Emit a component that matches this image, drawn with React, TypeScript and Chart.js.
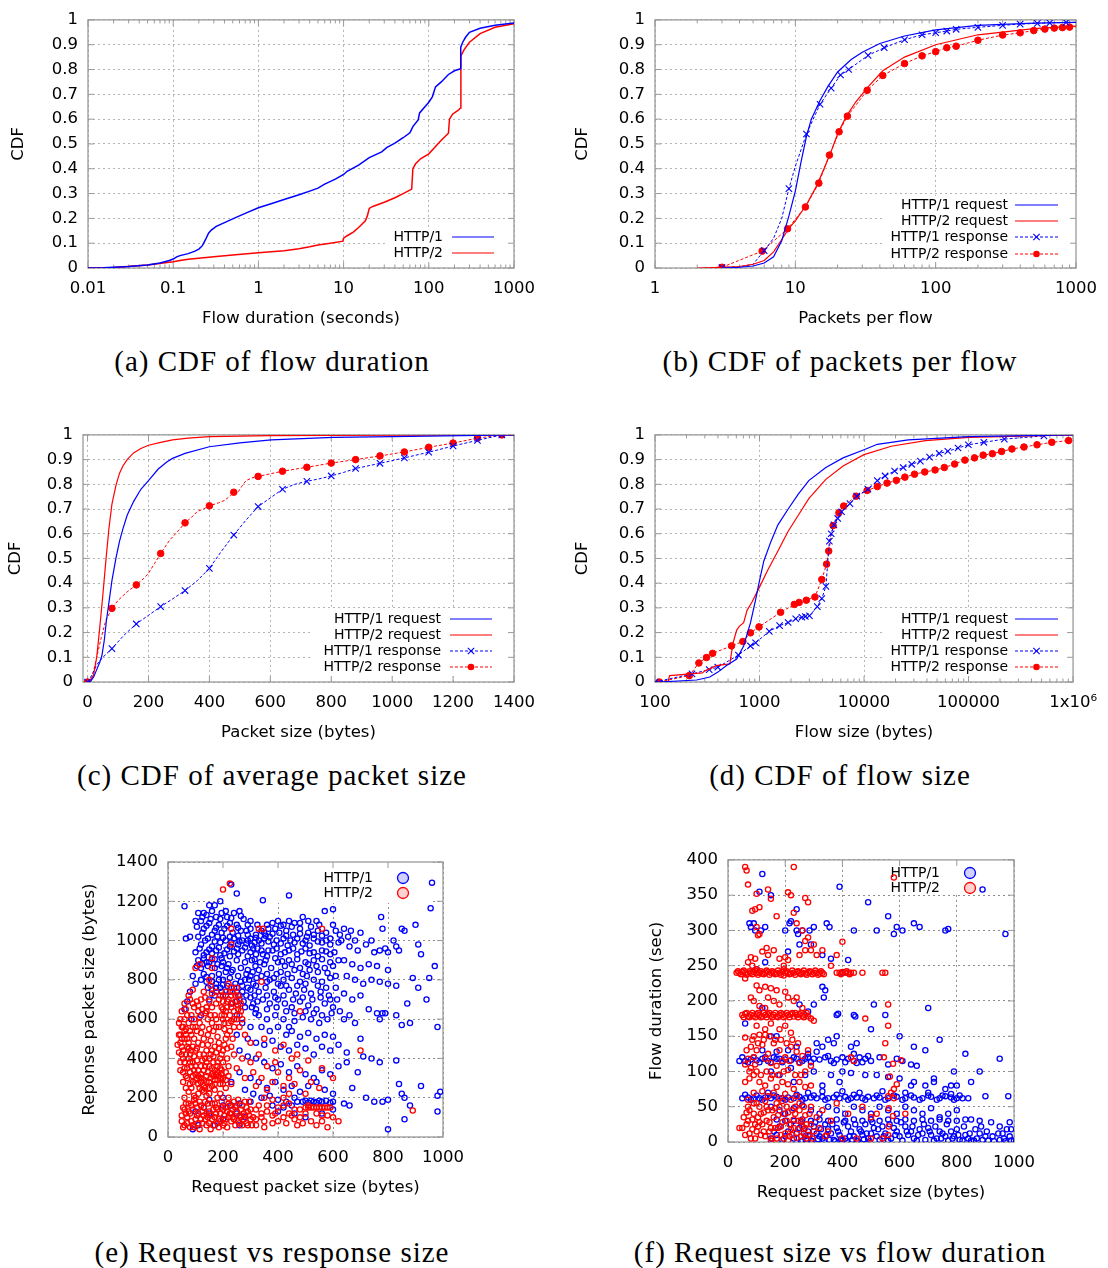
import React, { useEffect, useRef } from 'react';
import { Chart, registerables } from 'chart.js';
Chart.register(...registerables);

type P = [number, number];

const BLUE = 'rgb(0,0,255)';
const RED = 'rgb(255,0,0)';
const FONT = '"DejaVu Sans", Verdana, sans-serif';
const AXF = 16.5;

// ---------- (a) CDF of flow duration ----------
const aXTicks = [0.01, 0.1, 1, 10, 100, 1000];
const aXLabels = ['0.01', '0.1', '1', '10', '100', '1000'];
const cdfYTicks = [0, 0.1, 0.2, 0.3, 0.4, 0.5, 0.6, 0.7, 0.8, 0.9, 1];
const cdfYLabels = ['0', '0.1', '0.2', '0.3', '0.4', '0.5', '0.6', '0.7', '0.8', '0.9', '1'];
const aHttp1: P[] = [[0.01,0],[0.015,0.001],[0.02,0.003],[0.03,0.006],[0.05,0.012],[0.07,0.02],[0.09,0.03],[0.1,0.036],[0.11,0.045],[0.12,0.05],[0.15,0.058],[0.18,0.068],[0.2,0.076],[0.22,0.09],[0.24,0.115],[0.26,0.14],[0.28,0.153],[0.32,0.168],[0.4,0.183],[0.5,0.198],[0.7,0.22],[1,0.243],[1.5,0.262],[2,0.276],[3,0.295],[4,0.31],[5,0.322],[6,0.338],[8,0.358],[10,0.377],[11,0.39],[15,0.415],[20,0.445],[28,0.468],[32,0.485],[40,0.503],[50,0.525],[60,0.545],[65,0.57],[75,0.597],[78,0.625],[90,0.65],[100,0.668],[110,0.69],[120,0.73],[140,0.75],[170,0.78],[200,0.795],[235,0.803],[237,0.89],[250,0.91],[270,0.93],[300,0.95],[400,0.966],[600,0.978],[1000,0.988]];
const aHttp2: P[] = [[0.01,0],[0.02,0.002],[0.05,0.012],[0.1,0.025],[0.12,0.03],[0.15,0.035],[0.3,0.045],[0.5,0.052],[1,0.061],[2,0.07],[3,0.078],[4,0.086],[5,0.093],[7,0.1],[9.8,0.108],[10,0.12],[11,0.13],[13,0.145],[15,0.163],[18,0.19],[19,0.21],[20,0.24],[22,0.248],[30,0.265],[40,0.283],[50,0.3],[63,0.318],[65,0.4],[70,0.42],[80,0.44],[100,0.46],[120,0.49],[140,0.515],[170,0.543],[175,0.6],[190,0.62],[220,0.635],[236,0.645],[238,0.855],[260,0.88],[300,0.91],[400,0.945],[600,0.97],[1000,0.985]];

// ---------- (b) CDF of packets per flow ----------
const bXTicks = [1, 10, 100, 1000];
const bXLabels = ['1', '10', '100', '1000'];
const bReq1: P[] = [[3,0],[4,0.003],[5,0.008],[6,0.02],[7,0.045],[8,0.11],[9,0.21],[10,0.31],[11,0.43],[12,0.53],[13,0.6],[15,0.675],[17,0.73],[20,0.79],[25,0.84],[30,0.87],[40,0.905],[60,0.935],[100,0.96],[200,0.978],[500,0.987],[1000,0.99]];
const bReq2: P[] = [[2,0],[3,0.003],[4,0.006],[5,0.015],[6,0.03],[7,0.065],[8,0.115],[9,0.16],[10,0.19],[12,0.255],[14,0.325],[16,0.4],[18,0.47],[20,0.54],[23,0.61],[27,0.67],[33,0.73],[42,0.795],[60,0.85],[100,0.9],[200,0.94],[500,0.965],[1000,0.975]];
const bResp1: P[] = [[3,0.002],[4,0.005],[5,0.015],[6,0.07],[7,0.12],[8,0.2],[9,0.32],[10,0.41],[12,0.54],[15,0.66],[18,0.725],[21,0.778],[24,0.8],[33,0.857],[43,0.888],[60,0.92],[80,0.94],[100,0.948],[120,0.955],[140,0.962],[200,0.97],[300,0.978],[400,0.983],[530,0.986],[650,0.988],[850,0.99],[1000,0.99]];
const bResp1Marks: P[] = [[3,0.002],[6,0.07],[9,0.32],[12,0.54],[15,0.66],[18,0.725],[21,0.778],[24,0.8],[33,0.857],[43,0.888],[60,0.92],[80,0.94],[100,0.948],[120,0.955],[140,0.962],[200,0.97],[300,0.978],[400,0.983],[530,0.986],[650,0.988],[850,0.99]];
const bResp2: P[] = [[3,0.003],[5.8,0.068],[8.8,0.158],[11.8,0.246],[14.7,0.342],[17.5,0.455],[20.5,0.549],[23.5,0.612],[32.5,0.716],[42,0.776],[60,0.824],[80,0.855],[100,0.872],[120,0.888],[140,0.894],[200,0.918],[300,0.939],[400,0.948],[500,0.957],[600,0.963],[700,0.967],[800,0.969],[900,0.971],[1000,0.972]];
const bResp2Marks: P[] = [[3,0.003],[5.8,0.068],[8.8,0.158],[11.8,0.246],[14.7,0.342],[17.5,0.455],[20.5,0.549],[23.5,0.612],[32.5,0.716],[42,0.776],[60,0.824],[80,0.855],[100,0.872],[120,0.888],[140,0.894],[200,0.918],[300,0.939],[400,0.948],[500,0.957],[600,0.963],[700,0.967],[800,0.969],[900,0.971]];

// ---------- (c) CDF of average packet size ----------
const cXTicks = [0, 200, 400, 600, 800, 1000, 1200, 1400];
const cXLabels = ['0', '200', '400', '600', '800', '1000', '1200', '1400'];
const cReq1: P[] = [[0,0],[10,0.003],[20,0.02],[30,0.05],[40,0.08],[47,0.106],[55,0.17],[62,0.25],[70,0.32],[80,0.41],[93,0.5],[105,0.57],[116,0.62],[130,0.675],[151,0.73],[175,0.78],[200,0.815],[232,0.862],[260,0.89],[279,0.905],[320,0.925],[400,0.952],[500,0.968],[603,0.98],[806,0.99],[1000,0.993],[1400,1]];
const cReq2: P[] = [[0,0],[10,0.005],[20,0.03],[30,0.1],[40,0.22],[50,0.35],[60,0.49],[70,0.62],[80,0.72],[93,0.795],[105,0.845],[116,0.874],[130,0.9],[151,0.927],[175,0.945],[200,0.958],[240,0.97],[279,0.98],[330,0.987],[400,0.993],[600,0.997],[1000,0.999],[1400,1]];
const cResp1: P[] = [[0,0],[15,0.03],[30,0.07],[50,0.1],[80,0.135],[120,0.19],[160,0.235],[200,0.27],[240,0.305],[280,0.337],[320,0.37],[360,0.41],[400,0.46],[440,0.53],[480,0.595],[520,0.655],[560,0.71],[600,0.745],[640,0.78],[680,0.8],[720,0.812],[760,0.822],[800,0.834],[840,0.848],[880,0.864],[960,0.885],[1040,0.907],[1120,0.93],[1200,0.955],[1280,0.978],[1360,1],[1400,1]];
const cResp1Marks: P[] = [[0,0],[80,0.135],[160,0.235],[240,0.305],[320,0.37],[400,0.46],[480,0.595],[560,0.71],[640,0.78],[720,0.812],[800,0.834],[880,0.864],[960,0.885],[1040,0.907],[1120,0.93],[1200,0.955],[1280,0.978],[1360,1]];
const cResp2: P[] = [[0,0],[15,0.02],[30,0.1],[45,0.18],[60,0.25],[80,0.298],[100,0.33],[130,0.365],[160,0.393],[185,0.42],[200,0.44],[220,0.48],[240,0.52],[270,0.575],[300,0.615],[320,0.644],[340,0.665],[360,0.69],[380,0.7],[400,0.713],[430,0.725],[450,0.735],[470,0.755],[480,0.768],[495,0.77],[505,0.79],[520,0.815],[540,0.826],[560,0.832],[640,0.853],[720,0.869],[800,0.886],[880,0.9],[960,0.915],[1040,0.931],[1120,0.95],[1200,0.967],[1280,0.987],[1360,1],[1400,1]];
const cResp2Marks: P[] = [[0,0],[80,0.298],[160,0.393],[240,0.52],[320,0.644],[400,0.713],[480,0.768],[560,0.832],[640,0.853],[720,0.869],[800,0.886],[880,0.9],[960,0.915],[1040,0.931],[1120,0.95],[1200,0.967],[1280,0.987],[1360,1]];

// ---------- (d) CDF of flow size ----------
const dXTicks = [100, 1000, 10000, 100000, 1000000];
const dXLabels = ['100', '1000', '10000', '100000', '1x10\u2076'];
const dReq1: P[] = [[100,0],[133,0.002],[250,0.008],[284,0.013],[334,0.02],[400,0.04],[480,0.066],[605,0.093],[705,0.146],[820,0.24],[915,0.33],[1000,0.41],[1100,0.49],[1290,0.57],[1500,0.636],[1880,0.7],[2350,0.76],[2960,0.815],[4310,0.868],[6300,0.907],[10000,0.94],[13400,0.962],[26500,0.98],[100000,0.993],[1000000,1]];
const dReq2: P[] = [[100,0],[133,0],[138,0.026],[284,0.037],[300,0.045],[334,0.053],[385,0.066],[520,0.073],[540,0.12],[560,0.16],[605,0.21],[640,0.225],[705,0.24],[760,0.29],[850,0.325],[1000,0.384],[1190,0.45],[1500,0.53],[1880,0.61],[2350,0.675],[2960,0.742],[4310,0.82],[6300,0.874],[10000,0.92],[18200,0.954],[38700,0.977],[100000,0.99],[1000000,1]];
const dResp1: P[] = [[100,0],[226,0.033],[330,0.05],[399,0.06],[628,0.109],[819,0.146],[917,0.159],[1240,0.205],[1557,0.228],[1880,0.241],[2220,0.256],[2545,0.262],[2743,0.265],[3004,0.268],[3575,0.305],[3944,0.338],[4318,0.387],[4660,0.57],[4850,0.6],[5150,0.636],[5600,0.662],[6100,0.689],[7330,0.722],[8530,0.752],[10900,0.78],[13400,0.815],[15900,0.834],[19600,0.854],[23700,0.868],[28600,0.881],[34600,0.894],[42400,0.91],[52400,0.925],[63300,0.934],[79400,0.947],[99600,0.96],[140000,0.97],[220000,0.983],[526000,0.996]];
const dResp2: P[] = [[110,0],[213,0.026],[263,0.077],[311,0.099],[356,0.116],[540,0.146],[693,0.164],[819,0.199],[989,0.223],[1592,0.282],[2153,0.314],[2393,0.322],[2806,0.331],[3390,0.344],[3944,0.415],[4385,0.477],[4590,0.53],[5060,0.633],[5750,0.685],[6390,0.712],[8400,0.752],[10700,0.775],[13400,0.791],[16600,0.805],[20400,0.816],[24600,0.829],[30400,0.841],[38100,0.85],[47800,0.858],[58700,0.868],[73600,0.882],[92300,0.898],[114000,0.907],[138000,0.918],[169000,0.924],[207000,0.933],[260000,0.943],[339000,0.951],[452000,0.96],[626000,0.97],[906000,0.977]];

// ---------- (e) Request vs response size ----------
const eXTicks = [0, 200, 400, 600, 800, 1000];
const eXLabels = ['0', '200', '400', '600', '800', '1000'];
const eYTicks = [0, 200, 400, 600, 800, 1000, 1200, 1400];
const eYLabels = ['0', '200', '400', '600', '800', '1000', '1200', '1400'];
const eHttp1: number[] = [
60,1175,230,1285,250,1240,345,1205,440,1230,960,1295,955,1165,600,1160,570,1150,540,1100,510,1100,490,1120,775,1120,190,1200,170,1180,150,1180,210,1150,130,1140,100,1100,80,1020,65,1010,
110,1140,140,1130,160,1150,175,1120,195,1140,215,1120,240,1140,260,1150,275,1110,120,1100,150,1090,185,1080,225,1090,250,1080,290,1080,130,1060,170,1050,205,1060,235,1040,265,1050,300,1060,110,1020,145,1010,180,1020,210,1000,240,1010,270,1000,300,1010,120,980,160,970,190,990,225,970,255,980,285,985,315,990,100,940,140,940,175,950,205,935,240,945,270,950,300,940,330,1000,350,1010,370,1020,395,1000,420,1010,445,1000,470,1010,500,1000,530,1010,560,990,590,980,340,1050,360,1080,380,1090,400,1100,420,1080,440,1100,460,1090,350,1040,390,1060,430,1050,480,1060,510,1040,545,1050,575,1040,610,1050,640,1060,665,1050,700,1040,740,1000,680,1000,620,990,
310,960,320,930,305,900,318,870,308,840,322,810,310,780,300,750,315,720,325,690,305,660,318,630,
110,900,130,910,150,890,170,905,195,910,120,860,145,870,170,860,195,870,220,880,250,900,280,890,130,830,160,820,185,830,210,840,235,850,265,860,290,850,140,790,175,780,200,800,225,810,255,820,280,800,160,750,190,760,215,770,240,760,270,770,100,780,90,820,80,740,70,690,60,650,85,600,120,620,150,700,210,720,230,680,
340,950,360,920,380,950,410,930,440,950,470,930,500,960,530,940,560,950,590,930,350,880,375,860,400,890,425,870,450,880,480,860,510,880,540,870,570,860,600,870,340,820,370,800,395,830,420,800,450,810,480,790,505,820,530,800,560,790,590,810,355,760,385,740,410,770,440,750,465,730,495,750,520,730,555,740,585,720,610,760,345,700,370,680,400,700,425,680,450,660,480,690,510,670,540,650,570,680,600,660,330,620,360,600,390,620,420,600,440,560,460,590,490,610,520,600,550,580,580,600,340,560,370,540,400,560,430,520,450,540,480,510,510,530,540,500,570,520,600,510,260,720,280,660,250,620,270,580,300,560,250,520,290,500,320,480,350,470,380,490,410,460,440,440,470,470,500,450,530,420,560,460,590,440,620,470,650,430,
260,440,290,410,320,400,350,380,380,350,410,370,440,330,470,360,500,320,530,300,560,340,590,320,620,360,300,300,330,280,360,250,390,280,420,240,450,260,480,230,510,260,540,280,570,240,600,220,260,330,230,280,280,240,310,220,340,200,370,210,400,190,430,180,460,200,470,180,490,180,500,185,510,175,520,185,530,180,540,175,550,185,560,180,575,185,590,175,600,180,640,170,660,160,450,160,420,150,380,160,300,180,260,170,200,200,150,190,130,150,110,60,90,40,170,60,230,160,250,120,400,130,460,120,500,100,560,120,600,140,
630,1000,660,970,690,950,720,980,750,940,770,950,790,960,800,940,840,950,860,1050,820,1000,910,980,920,930,640,900,670,880,700,860,730,880,760,870,650,820,680,800,710,780,740,800,770,790,800,780,830,770,890,810,950,810,910,760,970,870,640,730,670,700,700,720,730,650,760,630,780,630,790,630,770,600,830,620,850,570,880,580,870,680,940,700,980,560,640,600,680,580,700,500,710,410,740,400,770,380,650,380,690,330,670,250,720,200,750,180,780,180,800,190,830,390,840,270,850,220,860,200,880,160,920,260,980,210,990,230,980,130,830,970,780,1060,850,1060,800,850,900,1080,
100,130,150,120,200,160,280,100,260,60,200,90,800,40,860,90,
125,1120,155,1110,190,1110,230,1115,265,1125,300,1100,325,1080,105,1070,140,1075,175,1065,215,1075,255,1065,285,1050,320,1030,125,1040,160,1030,195,1040,225,1020,255,1025,290,1030,320,1015,135,1000,170,995,200,1015,230,990,260,995,290,1000,340,985,365,995,385,980,410,985,435,975,460,990,490,985,515,975,545,995,575,1000,355,1025,380,1035,405,1040,430,1025,455,1030,480,1035,505,1020,530,1030,560,1025,590,1010,365,1060,410,1075,450,1070,480,1090,520,1070,550,1080,600,1080,625,1030,655,1020,
115,960,150,955,185,965,215,955,250,960,280,965,305,975,325,960,345,930,365,950,395,960,425,940,455,960,485,945,515,935,545,920,575,945,605,940,130,925,160,935,190,925,225,920,255,930,290,920,315,905,335,890,355,900,390,910,415,895,440,900,470,905,500,890,530,900,560,905,590,890,620,900,
320,770,330,740,300,710,310,680,320,650,290,760,295,800,330,850,300,820,285,830,265,790,245,780,230,840,215,860,200,890,180,880,160,905,140,890,125,880,105,870,120,800,140,815,160,790,185,800,200,775,170,720,195,740,145,760,175,760,225,740,250,740,270,740,285,720,275,690,250,690,
360,830,385,810,410,840,435,830,460,850,490,830,515,850,545,840,580,835,610,820,360,790,400,780,430,770,470,770,500,780,545,770,575,760,360,720,390,710,420,720,455,700,490,710,525,700,555,710,590,700,615,700,360,650,395,660,430,640,460,630,500,640,530,630,560,620,595,630,625,640,660,620];
const eHttp2: number[] = [
40,580,45,520,50,460,55,400,60,600,65,550,70,500,75,450,80,380,85,620,90,560,95,500,100,440,105,390,110,640,115,580,120,530,125,470,130,420,135,360,140,660,145,600,150,550,155,490,160,440,165,380,170,620,175,560,180,510,185,450,190,400,195,340,60,350,70,300,80,330,90,280,100,320,110,270,120,300,130,260,140,310,150,280,160,320,170,290,180,330,190,270,200,300,50,640,60,680,70,620,80,700,95,660,105,690,120,700,135,710,150,690,160,730,175,740,185,700,195,660,200,600,205,550,210,500,215,450,35,470,40,430,45,380,55,330,65,250,75,230,85,250,95,210,110,220,130,230,150,220,170,240,190,220,210,250,230,270,100,560,130,500,160,580,90,460,140,440,120,360,80,540,180,380,60,500,110,480,150,400,170,460,50,560,200,440,
190,720,200,690,210,740,215,660,220,700,225,620,230,760,235,680,240,640,245,720,250,600,255,670,260,700,205,620,230,590,265,640,220,780,250,760,240,560,270,600,
160,910,160,860,150,800,155,770,100,860,115,880,90,750,75,720,130,740,200,1260,225,1290,230,1060,330,1060,345,1060,560,1060,340,790,480,640,700,440,890,135,230,980,
260,560,280,520,300,480,330,420,350,500,390,440,420,470,450,400,360,360,400,330,440,300,480,340,520,280,550,250,300,380,270,400,250,350,310,330,340,300,380,280,420,260,460,270,500,220,240,420,280,300,230,460,560,350,600,300,470,420,510,390,390,380,440,220,360,240,320,260,
50,80,60,60,70,100,80,50,90,140,100,90,110,70,120,160,130,110,140,60,150,130,160,90,170,170,180,70,190,120,200,60,210,150,220,100,230,80,240,180,250,130,260,70,270,160,280,110,290,60,300,140,55,150,75,170,95,190,115,40,135,180,155,40,175,120,195,180,215,50,235,140,255,190,275,90,295,180,65,120,85,80,105,150,125,70,145,100,165,140,185,50,205,110,225,160,245,60,265,100,285,150,60,200,100,200,140,210,180,200,220,200,
310,100,330,160,350,80,360,130,380,70,400,150,420,100,440,170,460,90,480,140,500,120,510,150,520,150,530,150,540,150,550,150,560,150,570,150,580,150,590,150,510,160,520,80,540,60,580,50,620,80,600,100,380,190,350,200,420,200,320,90,340,120,470,60,560,80,580,110,
45,600,55,560,65,520,75,480,85,440,95,410,105,450,115,420,125,390,135,400,145,470,155,420,165,410,175,430,185,480,195,420,205,470,215,400,50,500,60,540,70,460,80,420,90,380,100,360,110,340,120,320,130,340,140,380,150,360,160,350,170,340,180,360,190,350,200,380,210,330,220,360,40,520,50,420,60,380,70,350,80,270,90,310,100,290,110,310,120,280,130,290,140,280,150,250,160,260,170,270,180,290,190,300,200,270,210,290,220,310,
75,580,85,520,95,600,105,540,115,610,125,560,135,630,145,520,155,620,165,540,175,600,185,560,195,620,205,580,215,520,225,540,235,500,65,650,90,680,110,670,125,650,140,640,160,660,175,680,200,650,215,690,230,720,245,690,200,720,235,740,255,720,265,680,210,640,230,660,255,650,240,600,260,620,220,580,45,480,55,440,65,420,75,400,85,360,95,340,105,300,115,250,125,240,135,250,145,330,155,300,165,310,175,320,185,310,195,320,55,280,65,310,45,340,
50,110,60,140,70,70,80,120,90,60,100,170,110,120,120,90,130,150,140,120,150,70,160,170,170,100,180,140,190,80,200,140,210,90,220,170,230,120,240,90,250,160,260,110,270,60,280,180,290,130,300,90,55,50,65,170,75,130,85,160,95,50,105,110,115,180,125,130,135,90,145,170,155,110,165,60,175,150,185,90,195,150,205,70,215,130,225,120,235,100,245,150,255,80,265,140,275,120,285,70,295,110,305,60,320,140,340,100,360,160,380,110,400,80,420,160,440,120,460,140,480,100,500,150,540,120,560,110,320,60,350,50,390,120,430,70,450,110,490,70];

// ---------- (f) Request size vs flow duration ----------
const fXTicks = [0, 200, 400, 600, 800, 1000];
const fXLabels = ['0', '200', '400', '600', '800', '1000'];
const fYTicks = [0, 50, 100, 150, 200, 250, 300, 350, 400];
const fYLabels = ['0', '50', '100', '150', '200', '250', '300', '350', '400'];
const fHttp1: number[] = [
110,355,120,380,90,310,75,310,80,305,95,300,130,305,115,300,200,300,215,310,220,313,240,300,245,295,260,300,285,300,300,305,330,265,345,310,355,305,390,362,440,300,490,340,520,300,560,320,580,295,590,305,610,300,650,310,670,305,760,300,770,302,890,358,970,295,150,350,240,330,290,280,130,255,100,245,210,270,250,280,420,258,400,240,360,260,
330,220,340,215,335,205,250,195,300,195,280,185,380,180,385,182,440,180,445,178,500,160,510,195,550,180,380,150,430,135,450,140,700,190,600,150,740,145,60,168,120,190,150,150,170,150,350,145,370,140,310,140,650,135,690,130,830,125,950,118,
40,115,60,115,80,117,100,116,120,118,140,115,160,120,180,118,200,117,220,116,240,118,260,115,280,120,300,118,320,117,340,120,360,115,380,117,400,120,420,118,440,115,460,120,480,118,500,115,530,120,560,110,590,118,610,115,640,110,660,108,440,125,310,128,120,130,170,128,210,130,280,125,240,135,330,135,
150,100,180,95,220,105,270,95,300,100,360,95,400,100,430,98,480,95,520,95,560,92,600,90,650,85,690,80,720,90,790,100,800,80,880,100,850,85,720,85,760,75,780,80,640,80,230,85,330,80,390,85,
50,62,70,63,90,62,110,62,130,63,150,62,170,64,190,62,210,63,230,62,250,64,270,62,290,63,310,62,330,64,350,62,370,63,390,62,410,64,430,62,450,63,470,62,490,64,510,62,530,63,560,62,590,64,620,62,650,63,680,62,710,64,740,62,780,63,800,62,820,62,840,62,900,65,980,65,760,65,140,70,280,70,330,72,400,72,460,70,540,72,620,70,700,70,780,68,
150,50,180,45,200,40,230,48,260,52,290,45,320,40,350,50,380,45,410,40,440,50,470,45,500,40,530,50,560,45,590,40,620,50,650,45,680,40,710,48,740,35,770,40,800,45,830,32,850,32,880,30,920,28,950,22,985,28,170,32,200,30,230,30,260,32,290,30,320,32,350,30,380,32,410,30,440,32,470,30,500,32,530,30,560,32,590,30,620,32,650,30,680,32,710,30,740,32,770,30,800,30,
150,5,170,10,190,3,210,15,230,5,250,20,270,8,290,2,310,12,330,5,350,18,370,3,390,10,410,5,430,15,450,2,470,10,490,5,510,20,530,3,550,12,570,5,590,15,610,2,630,10,650,5,670,18,690,3,710,10,730,5,750,12,770,2,790,8,810,3,830,10,850,2,870,5,890,3,910,2,930,1,950,3,970,1,990,2,1000,2,260,2,280,15,300,22,320,8,340,25,360,12,380,20,400,2,420,22,440,8,460,18,480,25,500,12,520,8,540,22,560,2,580,20,600,8,620,22,640,15,660,2,680,12,700,20,720,2,740,15,760,8,780,15,800,18,820,2,840,5,860,2,880,12,900,8,960,12,975,18,990,18,
255,1,275,3,295,1,315,4,335,1,355,3,375,1,395,4,415,1,435,3,455,1,475,4,495,1,
160,15,180,22,200,8,220,25,240,12,255,28,265,18,285,10,305,28,325,18,345,10,365,25,385,15,405,28,425,8,445,25,465,15,485,12,505,28,525,18,545,8,565,25,585,10,605,28,625,15,645,22,665,10,685,25,705,15,725,22,745,5,765,25,785,5,805,10,825,22,845,12,865,18,885,22,905,15,925,8,945,12,965,5,985,8,
60,67,80,60,100,66,120,60,160,66,200,60,240,67,260,60,300,66,340,60,380,67,420,60,440,67,480,60,520,66,550,60,580,66,610,60,640,66,670,60,700,66,730,60,750,66,790,60,810,66,
50,120,70,113,90,120,110,113,130,120,150,113,170,118,190,113,230,120,250,113,270,118,290,113,350,122,370,112,410,113,450,112,470,113,490,122];
const fHttp2: number[] = [
60,390,65,385,70,365,100,352,85,328,95,330,110,333,140,358,150,345,230,390,210,354,220,350,270,346,280,340,170,320,100,305,110,295,105,293,230,325,240,310,260,300,270,285,280,290,300,280,330,272,270,272,380,265,400,284,360,250,290,272,120,270,135,275,140,265,160,272,180,260,200,262,210,258,250,265,310,265,95,260,80,262,70,255,85,250,60,232,100,245,
30,240,40,240,50,241,60,240,70,239,80,240,90,241,100,240,110,240,120,239,130,240,140,241,150,240,160,240,170,239,180,240,190,241,200,240,210,240,220,239,230,240,240,241,250,240,260,240,270,239,280,240,290,241,300,240,310,240,320,239,330,240,380,240,390,240,400,241,410,240,420,240,430,240,470,240,550,240,195,245,195,250,195,236,
100,222,130,220,150,218,170,215,200,213,210,205,230,200,80,205,90,200,110,215,140,205,160,200,180,195,240,205,260,190,110,193,130,190,
50,180,60,182,70,178,80,180,90,179,100,181,110,180,120,178,130,180,140,181,150,179,160,180,170,178,180,180,190,181,200,179,210,180,220,181,230,178,240,180,250,181,260,179,270,180,280,178,290,175,300,172,
100,165,130,160,150,168,180,160,200,165,220,155,90,150,110,152,130,152,60,148,80,135,100,130,120,138,140,125,160,140,180,130,200,120,220,135,240,128,260,122,280,130,130,118,150,112,170,108,190,115,210,102,90,120,70,118,60,110,80,105,100,100,250,112,270,100,290,108,430,120,440,115,480,175,550,140,560,165,560,195,540,240,
60,85,75,90,90,95,110,85,130,80,150,90,170,78,190,85,210,82,230,75,250,85,270,78,290,80,90,70,120,72,140,65,160,70,180,62,200,68,220,60,240,65,70,60,100,55,
50,20,60,10,70,30,80,5,90,40,100,15,110,50,120,25,130,8,140,45,150,20,160,35,170,5,180,50,190,28,200,12,210,42,220,18,230,32,240,6,250,45,260,22,270,38,280,10,290,25,300,15,75,45,95,25,115,10,135,30,155,5,175,20,195,40,215,8,235,50,255,30,275,5,105,35,125,42,145,15,165,48,185,10,205,30,225,45,245,18,265,12,85,18,65,42,320,20,340,8,360,30,
580,75,570,70,590,82,560,65,580,62,545,120,577,111,605,116,566,93,562,48,577,37,562,22,500,35,520,40,500,5,400,5,450,5,470,50,420,40,380,55,540,5,560,10,580,375,620,40,40,20,
35,242,45,238,55,243,65,237,75,242,85,238,95,243,105,237,115,242,125,238,135,243,145,237,155,242,165,238,175,243,185,237,205,242,215,238,225,243,235,237,245,242,255,238,265,243,275,237,285,242,295,238,305,243,315,237,325,242,335,238,395,238,415,242,425,238,440,240,
55,177,65,183,75,177,85,183,95,177,105,183,115,177,125,183,135,177,145,183,155,177,165,183,175,177,185,183,195,177,205,183,215,177,225,183,235,183,245,177,255,183,265,177,275,183,
55,35,65,25,75,12,85,32,95,5,105,22,115,40,125,15,135,50,145,28,155,45,165,20,175,38,185,22,195,5,205,50,215,25,225,10,235,40,245,30,255,8,265,50,275,25,285,40,295,5,70,50,90,55,110,28,130,58,150,2,170,55,190,58,210,2,230,20,250,55,270,20,290,50,310,35,330,45,350,15,
75,100,95,110,115,95,135,100,155,95,175,95,195,100,215,115,235,95,255,95,65,130,85,145,105,140,125,145,145,150,165,145,185,145,205,140,225,145,245,140];

// ---------- helpers ----------
const xy = (arr: P[]) => arr.map(([x, y]) => ({ x, y }));
const flatXY = (a: number[]) => {
  const out: { x: number; y: number }[] = [];
  for (let i = 0; i + 1 < a.length; i += 2) out.push({ x: a[i], y: a[i + 1] });
  return out;
};

const lineDs = (data: P[], color: string, dash: number[] = [], width = 1.2) => ({
  data: xy(data), showLine: true, borderColor: color, borderWidth: width, borderDash: dash,
  pointRadius: 0, pointHoverRadius: 0, fill: false, tension: 0,
});
const markDs = (data: P[], color: string, kind: 'cross' | 'dot', withLine = false, dash: number[] = []) => ({
  data: xy(data), showLine: withLine, borderColor: color, backgroundColor: color,
  borderWidth: 1, borderDash: dash, fill: false, tension: 0,
  pointStyle: kind === 'cross' ? 'crossRot' : 'circle',
  pointRadius: kind === 'cross' ? 4.5 : 3.3, pointBorderWidth: kind === 'cross' ? 1.1 : 1,
  pointHoverRadius: 0,
});
const scatDs = (data: number[], color: string, order: number) => ({
  data: flatXY(data), showLine: false, borderColor: color, backgroundColor: 'rgba(255,255,255,0)',
  pointRadius: 2.6, pointBorderWidth: 1.3, borderWidth: 1.3, pointHoverRadius: 0, order,
});

type KeyItem = { label: string; color: string; kind: 'line' | 'cross' | 'dot' | 'ring'; dash?: number[]; fill?: string };
type KeyCfg = { box: number[]; textRight: number; s0: number; s1: number; rows: number[]; size: number; items: KeyItem[] };

const keyPlugin = (k: KeyCfg) => ({
  id: 'gkey',
  beforeDatasetsDraw(chart: any) {
    const ctx = chart.ctx as CanvasRenderingContext2D;
    ctx.save();
    ctx.fillStyle = '#fff';
    ctx.fillRect(k.box[0], k.box[1], k.box[2] - k.box[0], k.box[3] - k.box[1]);
    ctx.font = `${k.size}px ${FONT}`;
    ctx.textAlign = 'right';
    ctx.textBaseline = 'middle';
    k.items.forEach((it, i) => {
      const y = k.rows[i];
      ctx.fillStyle = '#000';
      ctx.fillText(it.label, k.textRight, y);
      ctx.strokeStyle = it.color;
      if (it.kind === 'ring') {
        ctx.beginPath();
        ctx.arc(k.s0, y, 5.5, 0, Math.PI * 2);
        ctx.fillStyle = it.fill || '#fff';
        ctx.fill();
        ctx.lineWidth = 1.3;
        ctx.stroke();
        return;
      }
      ctx.lineWidth = 1.2;
      ctx.setLineDash(it.dash || []);
      ctx.beginPath();
      ctx.moveTo(k.s0, y);
      ctx.lineTo(k.s1, y);
      ctx.stroke();
      ctx.setLineDash([]);
      const mx = (k.s0 + k.s1) / 2;
      if (it.kind === 'cross') {
        const r = 3.2;
        ctx.lineWidth = 1.1;
        ctx.beginPath();
        ctx.moveTo(mx - r, y - r); ctx.lineTo(mx + r, y + r);
        ctx.moveTo(mx - r, y + r); ctx.lineTo(mx + r, y - r);
        ctx.stroke();
      } else if (it.kind === 'dot') {
        ctx.fillStyle = it.color;
        ctx.beginPath();
        ctx.arc(mx, y, 3.3, 0, Math.PI * 2);
        ctx.fill();
      }
    });
    ctx.restore();
  },
});

const framePlugin = {
  id: 'gframe',
  beforeDatasetsDraw(chart: any) {
    const ctx = chart.ctx as CanvasRenderingContext2D;
    const a = chart.chartArea;
    const xs = chart.scales.x;
    const ys = chart.scales.y;
    ctx.save();
    ctx.strokeStyle = '#9a9a9a';
    ctx.lineWidth = 1;
    const seg = (x1: number, y1: number, x2: number, y2: number) => {
      ctx.beginPath(); ctx.moveTo(x1, y1); ctx.lineTo(x2, y2); ctx.stroke();
    };
    xs.ticks.forEach((t: any) => {
      const p = xs.getPixelForValue(t.value);
      seg(p, a.bottom, p, a.bottom - 6);
      seg(p, a.top, p, a.top + 6);
    });
    if (xs.type === 'logarithmic') {
      for (let e = Math.floor(Math.log10(xs.min)); e <= Math.ceil(Math.log10(xs.max)); e++) {
        for (let m = 2; m <= 9; m++) {
          const v = m * Math.pow(10, e);
          if (v <= xs.min || v >= xs.max) continue;
          const p = xs.getPixelForValue(v);
          seg(p, a.bottom, p, a.bottom - 3.5);
          seg(p, a.top, p, a.top + 3.5);
        }
      }
    }
    ys.ticks.forEach((t: any) => {
      const p = ys.getPixelForValue(t.value);
      seg(a.left, p, a.left + 6, p);
      seg(a.right, p, a.right - 6, p);
    });
    ctx.lineWidth = 1.3;
    ctx.strokeRect(a.left, a.top, a.right - a.left, a.bottom - a.top);
    ctx.restore();
  },
};

type PanelSpec = {
  datasets: any[];
  xType: 'linear' | 'logarithmic';
  xMin: number; xMax: number; xTicks: number[]; xLabels: string[];
  yMin: number; yMax: number; yTicks: number[]; yLabels: string[];
  xTitle: string; yTitle: string;
  yw: number; xh: number; pt: number; pr: number;
  yTitlePad: number; xTitlePad: number; gridColor: string;
  key: KeyCfg;
};

const makeConfig = (p: PanelSpec): any => ({
  type: 'scatter',
  data: { datasets: p.datasets },
  plugins: [keyPlugin(p.key), framePlugin],
  options: {
    animation: false,
    responsive: false,
    devicePixelRatio: 1,
    events: [],
    layout: { padding: { left: 0, top: p.pt, right: p.pr, bottom: 0 } },
    plugins: { legend: { display: false }, tooltip: { enabled: false } },
    scales: {
      x: {
        type: p.xType, min: p.xMin, max: p.xMax,
        afterBuildTicks: (s: any) => { s.ticks = p.xTicks.map((v) => ({ value: v })); },
        afterFit: (s: any) => { s.height = p.xh; },
        ticks: { autoSkip: false, maxRotation: 0, minRotation: 0, padding: 11, color: '#000',
          font: { size: AXF, family: FONT }, callback: (_v: any, i: number) => p.xLabels[i] },
        grid: { color: p.gridColor, drawTicks: false, lineWidth: 1 },
        border: { display: false, dash: [2, 3] },
        title: { display: true, text: p.xTitle, color: '#000', font: { size: AXF, family: FONT },
          padding: { top: 0, bottom: p.xTitlePad } },
      },
      y: {
        type: 'linear', min: p.yMin, max: p.yMax,
        afterBuildTicks: (s: any) => { s.ticks = p.yTicks.map((v) => ({ value: v })); },
        afterFit: (s: any) => { s.width = p.yw; },
        ticks: { autoSkip: false, padding: 10, color: '#000',
          font: { size: AXF, family: FONT }, callback: (_v: any, i: number) => p.yLabels[i] },
        grid: { color: p.gridColor, drawTicks: false, lineWidth: 1 },
        border: { display: false, dash: [2, 3] },
        title: { display: true, text: p.yTitle, color: '#000', font: { size: AXF, family: FONT },
          padding: { top: p.yTitlePad, bottom: 0 } },
      },
    },
  },
});

const cdfKeyItems: KeyItem[] = [
  { label: 'HTTP/1 request', color: BLUE, kind: 'line' },
  { label: 'HTTP/2 request', color: RED, kind: 'line' },
  { label: 'HTTP/1 response', color: BLUE, kind: 'cross', dash: [3, 2] },
  { label: 'HTTP/2 response', color: RED, kind: 'dot', dash: [3, 2] },
];
const CDF_GRID = '#b4b4b4';
const SC_GRID = '#8c8c8c';

const specA: PanelSpec = {
  datasets: [lineDs(aHttp1, BLUE, [], 1.5), lineDs(aHttp2, RED, [], 1.5)],
  xType: 'logarithmic', xMin: 0.01, xMax: 1000, xTicks: aXTicks, xLabels: aXLabels,
  yMin: 0, yMax: 1, yTicks: cdfYTicks, yLabels: cdfYLabels,
  xTitle: 'Flow duration (seconds)', yTitle: 'CDF',
  yw: 88, xh: 72, pt: 17, pr: 36, yTitlePad: 9, xTitlePad: 11, gridColor: CDF_GRID,
  key: { box: [386, 228, 514, 262], textRight: 443, s0: 452, s1: 494, rows: [237, 253], size: 14,
    items: [{ label: 'HTTP/1', color: BLUE, kind: 'line' }, { label: 'HTTP/2', color: RED, kind: 'line' }] },
};

const specB: PanelSpec = {
  datasets: [lineDs(bReq1, BLUE), lineDs(bReq2, RED), lineDs(bResp1, BLUE, [3, 2], 1),
    markDs(bResp1Marks, BLUE, 'cross'), lineDs(bResp2, RED, [3, 2], 1), markDs(bResp2Marks, RED, 'dot')],
  xType: 'logarithmic', xMin: 1, xMax: 1000, xTicks: bXTicks, xLabels: bXLabels,
  yMin: 0, yMax: 1, yTicks: cdfYTicks, yLabels: cdfYLabels,
  xTitle: 'Packets per flow', yTitle: 'CDF',
  yw: 95, xh: 72, pt: 17, pr: 27, yTitlePad: 13, xTitlePad: 11, gridColor: CDF_GRID,
  key: { box: [325, 196, 521, 262], textRight: 448, s0: 455, s1: 498, rows: [205, 221, 237, 254], size: 14, items: cdfKeyItems },
};

const specC: PanelSpec = {
  datasets: [lineDs(cReq1, BLUE), lineDs(cReq2, RED), lineDs(cResp1, BLUE, [3, 2], 1),
    markDs(cResp1Marks, BLUE, 'cross'), lineDs(cResp2, RED, [3, 2], 1), markDs(cResp2Marks, RED, 'dot')],
  xType: 'linear', xMin: -15, xMax: 1400, xTicks: cXTicks, xLabels: cXLabels,
  yMin: 0, yMax: 1, yTicks: cdfYTicks, yLabels: cdfYLabels,
  xTitle: 'Packet size (bytes)', yTitle: 'CDF',
  yw: 83, xh: 73, pt: 15, pr: 36, yTitlePad: 6, xTitlePad: 12, gridColor: CDF_GRID,
  key: { box: [310, 195, 514, 261], textRight: 441, s0: 450, s1: 492, rows: [204, 220, 236, 252], size: 14, items: cdfKeyItems },
};

const specD: PanelSpec = {
  datasets: [lineDs(dReq1, BLUE), lineDs(dReq2, RED),
    markDs(dResp1, BLUE, 'cross', true, [3, 2]), markDs(dResp2, RED, 'dot', true, [3, 2])],
  xType: 'logarithmic', xMin: 100, xMax: 1000000, xTicks: dXTicks, xLabels: dXLabels,
  yMin: 0, yMax: 1, yTicks: cdfYTicks, yLabels: cdfYLabels,
  xTitle: 'Flow size (bytes)', yTitle: 'CDF',
  yw: 95, xh: 73, pt: 15, pr: 27, yTitlePad: 13, xTitlePad: 12, gridColor: CDF_GRID,
  key: { box: [325, 195, 521, 261], textRight: 448, s0: 455, s1: 498, rows: [204, 220, 236, 252], size: 14, items: cdfKeyItems },
};

const specE: PanelSpec = {
  datasets: [scatDs(eHttp1, BLUE, 1), scatDs(eHttp2, RED, 0)],
  xType: 'linear', xMin: 0, xMax: 1000, xTicks: eXTicks, xLabels: eXLabels,
  yMin: 0, yMax: 1400, yTicks: eYTicks, yLabels: eYLabels,
  xTitle: 'Request packet size (bytes)', yTitle: 'Reponse packet size (bytes)',
  yw: 108, xh: 73, pt: 22, pr: 57, yTitlePad: 20, xTitlePad: 12, gridColor: SC_GRID,
  key: { box: [163, 22, 372, 63], textRight: 313, s0: 343, s1: 343, rows: [38, 53], size: 14,
    items: [{ label: 'HTTP/1', color: BLUE, kind: 'ring', fill: 'rgba(0,0,255,0.18)' },
      { label: 'HTTP/2', color: RED, kind: 'ring', fill: 'rgba(255,0,0,0.18)' }] },
};

const specF: PanelSpec = {
  datasets: [scatDs(fHttp1, BLUE, 1), scatDs(fHttp2, RED, 0)],
  xType: 'linear', xMin: 0, xMax: 1000, xTicks: fXTicks, xLabels: fXLabels,
  yMin: 0, yMax: 400, yTicks: fYTicks, yLabels: fYLabels,
  xTitle: 'Request packet size (bytes)', yTitle: 'Flow duration (sec)',
  yw: 108, xh: 68, pt: 17, pr: 66, yTitlePad: 27, xTitlePad: 7, gridColor: SC_GRID,
  key: { box: [270, 17, 382, 53], textRight: 320, s0: 350, s1: 350, rows: [33, 48], size: 14,
    items: [{ label: 'HTTP/1', color: BLUE, kind: 'ring', fill: 'rgba(0,0,255,0.18)' },
      { label: 'HTTP/2', color: RED, kind: 'ring', fill: 'rgba(255,0,0,0.18)' }] },
};

function Panel({ left, top, width, height, spec }: { left: number; top: number; width: number; height: number; spec: PanelSpec }) {
  const ref = useRef<HTMLCanvasElement>(null);
  useEffect(() => {
    if (!ref.current) return;
    const chart = new Chart(ref.current, makeConfig(spec));
    return () => chart.destroy();
  }, [spec]);
  return (
    <canvas ref={ref} width={width} height={height}
      style={{ position: 'absolute', left, top, width, height, display: 'block' }} />
  );
}

function Caption({ cx, cy, text }: { cx: number; cy: number; text: string }) {
  return (
    <div style={{
      position: 'absolute', left: cx - 300, top: cy - 17, width: 600, height: 34,
      lineHeight: '34px', textAlign: 'center', fontFamily: '"Liberation Serif", "Times New Roman", serif',
      fontSize: 29, letterSpacing: '1px', color: '#000', whiteSpace: 'nowrap',
    }}>{text}</div>
  );
}

export default function App() {
  return (
    <div style={{ position: 'absolute', left: 0, top: 0, width: 1108, height: 1268, background: '#fff', overflow: 'hidden' }}>
      <Panel left={0} top={0} width={550} height={340} spec={specA} />
      <Panel left={560} top={0} width={548} height={340} spec={specB} />
      <Panel left={0} top={415} width={550} height={340} spec={specC} />
      <Panel left={560} top={415} width={548} height={340} spec={specD} />
      <Panel left={60} top={840} width={440} height={370} spec={specE} />
      <Panel left={620} top={840} width={460} height={370} spec={specF} />
      <Caption cx={272} cy={361} text="(a) CDF of flow duration" />
      <Caption cx={840} cy={361} text="(b) CDF of packets per flow" />
      <Caption cx={272} cy={775} text="(c) CDF of average packet size" />
      <Caption cx={840} cy={775} text="(d) CDF of flow size" />
      <Caption cx={272} cy={1252} text="(e) Request vs response size" />
      <Caption cx={840} cy={1252} text="(f) Request size vs flow duration" />
    </div>
  );
}
